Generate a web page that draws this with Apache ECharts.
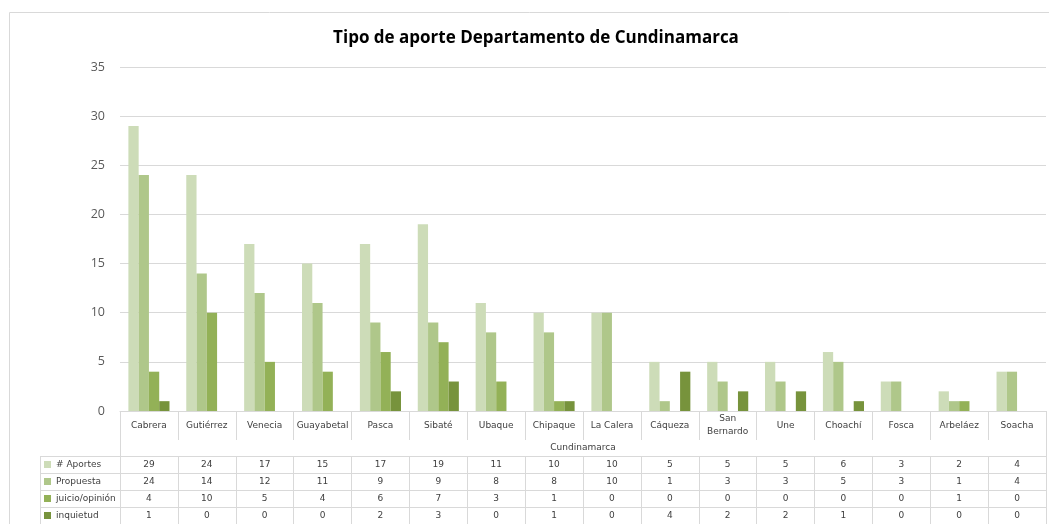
<!DOCTYPE html>
<html>
<head>
<meta charset="utf-8">
<script src="https://cdn.jsdelivr.net/npm/echarts@6/dist/echarts.min.js"></script>
<style>
  html, body { margin: 0; padding: 0; background: #fff; }
  #chart { width: 1049px; height: 524px; }
</style>
</head>
<body>
<div id="chart"></div>
<script>
// municipios
const categories = ['Cabrera', 'Gutiérrez', 'Venecia', 'Guayabetal', 'Pasca', 'Sibaté', 'Ubaque', 'Chipaque',
  'La Calera', 'Cáqueza', 'San Bernardo', 'Une', 'Choachí', 'Fosca', 'Arbeláez', 'Soacha']
const groupLabel = ['Cundinamarca']
const seriesNames = ['# Aportes', 'Propuesta', 'juicio/opinión', 'inquietud']
const aportes = [29, 24, 17, 15, 17, 19, 11, 10, 10, 5, 5, 5, 6, 3, 2, 4]
const propuesta = [24, 14, 12, 11, 9, 9, 8, 8, 10, 1, 3, 3, 5, 3, 1, 4]
const juicio = [4, 10, 5, 4, 6, 7, 3, 1, 0, 0, 0, 0, 0, 0, 1, 0]
const inquietud = [1, 0, 0, 0, 2, 3, 0, 1, 0, 4, 2, 2, 1, 0, 0, 0]
const yTicks = [0, 35, 5] // min, max, interval

const colors = ['#cddcb8', '#afc78a', '#93b157', '#77933c']
const lineColor = '#d9d9d9'
const tableFont = 'DejaVu Sans'

// layout
const gridLeft = 120
const gridRight = 3
const gridTop = 67
const axisY = 411
const catRowH = 29
const groupRowH = 16
const rowH = 17
const legendLeft = 40

const allRows = [aportes, propuesta, juicio, inquietud]

const chart = echarts.init(document.getElementById('chart'))

const xAxes = [
  {
    type: 'category',
    data: categories,
    position: 'bottom',
    axisLine: { lineStyle: { color: lineColor } },
    axisTick: { show: true, length: catRowH, interval: 0, lineStyle: { color: lineColor } },
    axisLabel: {
      interval: 0, margin: catRowH / 2, verticalAlign: 'middle', lineHeight: 13,
      fontFamily: tableFont, fontSize: 9, color: '#404040',
      // solo los nombres largos van en dos lineas
      formatter: v => (v.length > 10 ? v.replace(' ', '\n') : v)
    }
  },
  {
    type: 'category',
    data: groupLabel,
    position: 'bottom',
    offset: catRowH,
    axisLine: { show: false },
    axisTick: { show: true, length: groupRowH, lineStyle: { color: lineColor } },
    axisLabel: {
      margin: groupRowH / 2, verticalAlign: 'middle',
      fontFamily: tableFont, fontSize: 9, color: '#404040'
    }
  }
]

allRows.forEach((row, i) => {
  xAxes.push({
    type: 'category',
    data: row.map(String),
    position: 'bottom',
    offset: catRowH + groupRowH + i * rowH,
    axisLine: { show: true, lineStyle: { color: lineColor } },
    axisTick: { show: true, length: rowH, interval: 0, lineStyle: { color: lineColor } },
    axisLabel: {
      interval: 0, margin: rowH / 2, verticalAlign: 'middle',
      fontFamily: tableFont, fontSize: 9, color: '#404040'
    }
  })
})

// bordes de la columna de la leyenda (izquierda de la tabla)
const tableTop = axisY + catRowH + groupRowH
const legendLines = []
for (let i = 0; i < allRows.length; i++) {
  legendLines.push({
    type: 'line',
    shape: { x1: legendLeft, y1: tableTop + i * rowH + 0.5, x2: gridLeft, y2: tableTop + i * rowH + 0.5 },
    style: { stroke: lineColor, lineWidth: 1 }
  })
}
legendLines.push({
  type: 'line',
  shape: { x1: legendLeft + 0.5, y1: tableTop, x2: legendLeft + 0.5, y2: 530 },
  style: { stroke: lineColor, lineWidth: 1 }
})

chart.setOption({
  color: colors,
  animation: false,
  title: {
    text: 'Tipo de aporte Departamento de Cundinamarca',
    left: 531,
    top: 25,
    textAlign: 'center',
    textStyle: { fontFamily: 'Open Sans', fontWeight: 'bold', fontSize: 17, color: '#000' }
  },
  legend: {
    data: seriesNames,
    orient: 'vertical',
    left: legendLeft + 4,
    top: tableTop,
    padding: 0,
    itemGap: 0,
    itemWidth: 7,
    itemHeight: 7,
    icon: 'rect',
    selectedMode: false,
    textStyle: { fontFamily: tableFont, fontSize: 9, color: '#404040', lineHeight: rowH }
  },
  grid: {
    left: gridLeft,
    right: gridRight,
    top: gridTop,
    bottom: 524 - axisY
  },
  xAxis: xAxes,
  yAxis: {
    type: 'value',
    min: yTicks[0],
    max: yTicks[1],
    interval: yTicks[2],
    axisLine: { show: false },
    axisTick: { show: false },
    axisLabel: { margin: 15, fontFamily: 'Open Sans', fontSize: 12.5, color: '#595959' },
    splitLine: { lineStyle: { color: lineColor } }
  },
  graphic: [
    {
      type: 'rect',
      shape: { x: 9.5, y: 12.5, width: 1200, height: 600 },
      style: { fill: 'none', stroke: lineColor, lineWidth: 1 },
      z: -1
    }
  ].concat(legendLines),
  series: seriesNames.map((name, i) => ({
    name: name,
    type: 'bar',
    xAxisIndex: 0,
    data: allRows[i],
    barGap: '0%',
    barCategoryGap: '29%'
  }))
})
</script>
</body>
</html>
